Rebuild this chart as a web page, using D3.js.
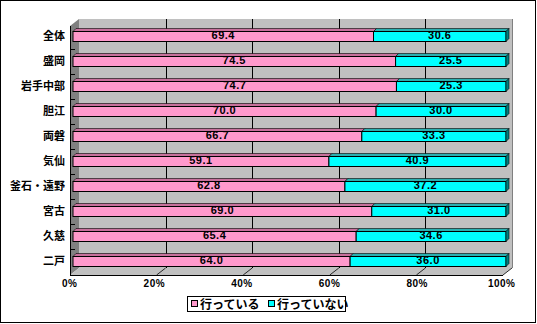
<!DOCTYPE html>
<html><head><meta charset="utf-8">
<script src="https://cdn.jsdelivr.net/npm/d3@7"></script>
<style>body{margin:0;background:#fff}svg{display:block}</style>
</head><body><svg id="c" width="537" height="324"></svg>
<script>
const categories = ["全体","盛岡","岩手中部","胆江","両磐","気仙","釜石・遠野","宮古","久慈","二戸"];
const doing = [69.4,74.5,74.7,70.0,66.7,59.1,62.8,69.0,65.4,64.0];
const notDoing = [30.6,25.5,25.3,30.0,33.3,40.9,37.2,31.0,34.6,36.0];
const seriesNames = ["行っている","行っていない"];
const tickValues = [0,20,40,60,80,100];
const tickLabels = ["0%","20%","40%","60%","80%","100%"];

const colors = ["#FF99CC","#00FFFF"];
const topColors = ["#C8709C","#2AAFAF"];
const sideColor = "#008080";

const svg = d3.select("#c");
// outer frame
svg.append("rect").attr("x",0.5).attr("y",0.5).attr("width",535).attr("height",322)
  .attr("fill","#fff").attr("stroke","#000");

const DX = 9, DY = -7;            // wall depth
const BD = 3;                     // bar depth
const x = d3.scaleLinear().domain([0,100]).range([70,503]);
const yTop = 26, yBot = 275;
const y = d3.scaleBand().domain(categories).range([23.5,273.5]);
const barH = 10;

const g = svg.append("g");
// side wall
g.append("polygon").attr("points",[[x(0),yTop],[x(0)+DX,yTop+DY],[x(0)+DX,yBot+DY],[x(0),yBot]].join(" "))
  .attr("fill","#808080");
// back wall
g.append("rect").attr("x",x(0)+DX).attr("y",yTop+DY).attr("width",x(100)-x(0)).attr("height",yBot-yTop)
  .attr("fill","#C0C0C0");
// floor
g.append("polygon").attr("points",[[x(0),yBot],[x(0)+DX,yBot+DY],[x(100)+DX,yBot+DY],[x(100),yBot]].join(" "))
  .attr("fill","#C0C0C0");
// right edge of back wall
g.append("line").attr("x1",x(100)+DX+0.5).attr("x2",x(100)+DX+0.5).attr("y1",yTop+DY).attr("y2",yBot+DY)
  .attr("stroke","#808080");
// gridlines on back wall
g.selectAll(".grid").data(tickValues.slice(1,5)).join("line")
  .attr("x1",d=>Math.round(x(d)+DX)+0.5).attr("x2",d=>Math.round(x(d)+DX)+0.5)
  .attr("y1",yTop+DY).attr("y2",yBot+DY).attr("stroke","#000");
// floor gridlines
g.selectAll(".fgrid").data(tickValues.slice(1)).join("line")
  .attr("x1",d=>x(d)).attr("y1",yBot).attr("x2",d=>x(d)+DX).attr("y2",yBot+DY)
  .attr("stroke","#000").attr("stroke-width",0.8);
// axes lines
g.append("line").attr("x1",x(0)+0.5).attr("x2",x(0)+0.5).attr("y1",yTop).attr("y2",yBot).attr("stroke","#000");
g.append("line").attr("x1",x(0)).attr("x2",x(100)).attr("y1",yBot+0.5).attr("y2",yBot+0.5).attr("stroke","#000");
// category ticks
const bounds = categories.slice(1).map(c=>y(c));
g.selectAll(".ctick").data(bounds).join("line")
  .attr("x1",x(0)).attr("x2",x(0)+5).attr("y1",d=>Math.round(d)+0.5).attr("y2",d=>Math.round(d)+0.5)
  .attr("stroke","#000");

// bars
const rows = categories.map((c,i)=>({c, vals:[doing[i], notDoing[i]]}));
const xb = v => x(v)+BD;
rows.forEach(r=>{
  const yt = Math.round(y(r.c)+y.bandwidth()/2-barH/2)+0.5;
  let acc = 0;
  r.vals.forEach((v,k)=>{
    const x0 = xb(acc), x1 = xb(acc+v);
    g.append("polygon").attr("points",[[x0,yt],[x0+BD,yt-BD],[x1+BD,yt-BD],[x1,yt]].join(" "))
      .attr("fill",topColors[k]).attr("stroke","#000").attr("stroke-width",0.6);
    g.append("rect").attr("x",x0).attr("y",yt).attr("width",x1-x0).attr("height",barH)
      .attr("fill",colors[k]).attr("stroke","#000");
    acc += v;
  });
  const xe = xb(100);
  g.append("polygon").attr("points",[[xe,yt],[xe+BD,yt-BD],[xe+BD,yt+barH-BD],[xe,yt+barH]].join(" "))
    .attr("fill",sideColor).attr("stroke","#000").attr("stroke-width",0.6);
  acc = 0;
  r.vals.forEach((v,k)=>{
    g.append("text").attr("x",(xb(acc)+xb(acc+v))/2).attr("y",yt+7)
      .attr("text-anchor","middle").attr("font-family","Liberation Sans, Arial, sans-serif")
      .attr("font-weight","bold").attr("font-size",11).attr("letter-spacing",0.5).attr("fill","#000")
      .text(d3.format(".1f")(v));
    acc += v;
  });
});

// category labels
g.selectAll(".clab").data(categories).join("text")
  .attr("x",65).attr("y",d=>y(d)+y.bandwidth()/2+4)
  .attr("text-anchor","end").attr("font-family","Noto Sans CJK JP, sans-serif")
  .attr("font-weight","bold").attr("font-size",11).text(d=>d);

// x axis labels
const xl = d3.scaleLinear().domain([0,100]).range([77,515]);
const ax = svg.append("g").attr("transform","translate(0,279)")
  .call(d3.axisBottom(xl).tickValues(tickValues).tickSize(0).tickFormat((d,i)=>tickLabels[i]));
ax.select(".domain").remove();
ax.selectAll("text").attr("text-anchor","end").attr("dy",0).attr("y",8)
  .attr("font-family","Liberation Sans, Arial, sans-serif").attr("font-weight","bold")
  .attr("font-size",10).attr("letter-spacing",0.5).attr("fill","#000");

// legend
const lg = svg.append("g");
lg.append("rect").attr("x",187.5).attr("y",296.5).attr("width",158).attr("height",15)
  .attr("fill","#fff").attr("stroke","#000");
const legX = [191, 268];
seriesNames.forEach((n,k)=>{
  lg.append("rect").attr("x",legX[k]+0.5).attr("y",300.5).attr("width",6).attr("height",6)
    .attr("fill",colors[k]).attr("stroke","#000");
  lg.append("text").attr("x",legX[k]+9).attr("y",308.5)
    .attr("font-family","Noto Sans CJK JP, sans-serif").attr("font-size",12).attr("font-weight","bold").text(n);
});
</script></body></html>
